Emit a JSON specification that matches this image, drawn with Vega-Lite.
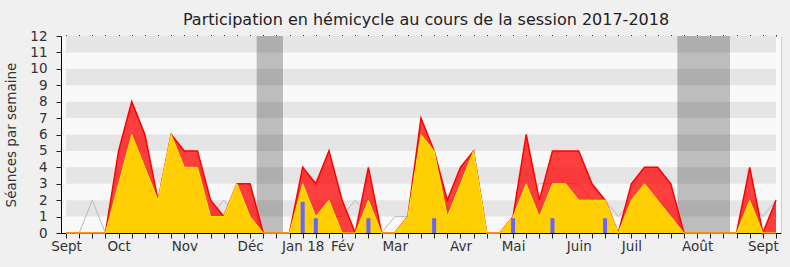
{
  "$schema": "https://vega.github.io/schema/vega-lite/v6.json",
  "autosize": "none",
  "width": 720,
  "height": 197,
  "padding": {"left": 61, "top": 36, "right": 9, "bottom": 34},
  "background": "#f0f0f0",
  "title": {"text": "Participation en hémicycle au cours de la session 2017-2018", "font": "DejaVu Sans", "fontSize": 16, "fontWeight": "normal", "color": "#222222", "anchor": "middle", "baseline": "alphabetic", "offset": -12, "dx": 5},
  "config": {"view": {"stroke": null, "fill": "#f9f9f9"}, "font": "DejaVu Sans"},
  "datasets": {
    "weeks": [
      {"week": 0, "total": 0, "part": 0, "median": 0},
      {"week": 1, "total": 0, "part": 0, "median": 0},
      {"week": 2, "total": 0, "part": 0, "median": 2},
      {"week": 3, "total": 0, "part": 0, "median": 0},
      {"week": 4, "total": 5, "part": 3, "median": 1},
      {"week": 5, "total": 8, "part": 6, "median": 2},
      {"week": 6, "total": 6, "part": 4, "median": 1},
      {"week": 7, "total": 2, "part": 2, "median": 1},
      {"week": 8, "total": 6, "part": 6, "median": 1},
      {"week": 9, "total": 5, "part": 4, "median": 2},
      {"week": 10, "total": 5, "part": 4, "median": 1},
      {"week": 11, "total": 2, "part": 1, "median": 1},
      {"week": 12, "total": 1, "part": 1, "median": 2},
      {"week": 13, "total": 3, "part": 3, "median": 1},
      {"week": 14, "total": 3, "part": 1, "median": 1},
      {"week": 15, "total": 0, "part": 0, "median": 0},
      {"week": 16, "total": 0, "part": 0, "median": 0},
      {"week": 17, "total": 0, "part": 0, "median": 0},
      {"week": 18, "total": 4, "part": 3, "median": 1},
      {"week": 19, "total": 3, "part": 1, "median": 1},
      {"week": 20, "total": 5, "part": 2, "median": 1},
      {"week": 21, "total": 2, "part": 0, "median": 1},
      {"week": 22, "total": 0, "part": 0, "median": 2},
      {"week": 23, "total": 4, "part": 2, "median": 1},
      {"week": 24, "total": 0, "part": 0, "median": 0},
      {"week": 25, "total": 0, "part": 0, "median": 1},
      {"week": 26, "total": 1, "part": 1, "median": 1},
      {"week": 27, "total": 7, "part": 6, "median": 1},
      {"week": 28, "total": 5, "part": 5, "median": 1},
      {"week": 29, "total": 2, "part": 1, "median": 2},
      {"week": 30, "total": 4, "part": 3, "median": 2},
      {"week": 31, "total": 5, "part": 5, "median": 2},
      {"week": 32, "total": 0, "part": 0, "median": 0},
      {"week": 33, "total": 0, "part": 0, "median": 0},
      {"week": 34, "total": 1, "part": 1, "median": 1},
      {"week": 35, "total": 6, "part": 3, "median": 2},
      {"week": 36, "total": 2, "part": 1, "median": 3},
      {"week": 37, "total": 5, "part": 3, "median": 3},
      {"week": 38, "total": 5, "part": 3, "median": 3},
      {"week": 39, "total": 5, "part": 2, "median": 3},
      {"week": 40, "total": 3, "part": 2, "median": 2},
      {"week": 41, "total": 2, "part": 2, "median": 2},
      {"week": 42, "total": 0, "part": 0, "median": 1},
      {"week": 43, "total": 3, "part": 2, "median": 2},
      {"week": 44, "total": 4, "part": 3, "median": 2},
      {"week": 45, "total": 4, "part": 2, "median": 2},
      {"week": 46, "total": 3, "part": 1, "median": 1},
      {"week": 47, "total": 0, "part": 0, "median": 0},
      {"week": 48, "total": 0, "part": 0, "median": 0},
      {"week": 49, "total": 0, "part": 0, "median": 0},
      {"week": 50, "total": 0, "part": 0, "median": 0},
      {"week": 51, "total": 0, "part": 0, "median": 0},
      {"week": 52, "total": 4, "part": 2, "median": 2},
      {"week": 53, "total": 0, "part": 0, "median": 1},
      {"week": 54, "total": 2, "part": 0, "median": 2}
    ],
    "questions": [
      {"week": 18, "q": 1.9},
      {"week": 19, "q": 0.9},
      {"week": 23, "q": 0.9},
      {"week": 28, "q": 0.9},
      {"week": 34, "q": 0.9},
      {"week": 37, "q": 0.9},
      {"week": 41, "q": 0.9}
    ],
    "bands": [
      {"lo": 1, "hi": 2}, {"lo": 3, "hi": 4}, {"lo": 5, "hi": 6},
      {"lo": 7, "hi": 8}, {"lo": 9, "hi": 10}, {"lo": 11, "hi": 12}
    ],
    "holidays": [
      {"start": 14.5, "end": 16.5},
      {"start": 46.5, "end": 50.5}
    ]
  },
  "resolve": {"axis": {"x": "independent", "y": "independent"}},
  "layer": [
    {
      "data": {"name": "bands"},
      "mark": {"type": "rect", "color": "#e5e5e5"},
      "encoding": {
        "x": {"datum": 0, "type": "quantitative", "scale": {"domain": [0, 54], "nice": false, "zero": false},
          "axis": {"orient": "bottom", "title": null, "grid": false,
            "values": [0,1,2,3,4,5,6,7,8,9,10,11,12,13,14,15,16,17,18,19,20,21,22,23,24,25,26,27,28,29,30,31,32,33,34,35,36,37,38,39,40,41,42,43,44,45,46,47,48,49,50,51,52,53,54],
            "labelExpr": "datum.value == 0 ? 'Sept' : datum.value == 4 ? 'Oct' : datum.value == 9 ? 'Nov' : datum.value == 14 ? 'Déc' : datum.value == 18 ? 'Jan 18' : datum.value == 21 ? 'Fév' : datum.value == 25 ? 'Mar' : datum.value == 30 ? 'Avr' : datum.value == 34 ? 'Mai' : datum.value == 39 ? 'Juin' : datum.value == 43 ? 'Juil' : datum.value == 48 ? 'Août' : datum.value == 53 ? 'Sept' : ''",
            "labelOverlap": false, "labelFlush": false, "labelBound": false,
            "labelFontSize": 13.5, "labelColor": "#333333", "labelPadding": 1, "labelFont": "DejaVu Sans",
            "tickSize": 5, "tickColor": "#222222", "domainColor": "#000000", "domainWidth": 1}},
        "x2": {"datum": 54},
        "y": {"field": "lo", "type": "quantitative", "scale": {"domain": [0, 12], "nice": false, "zero": true},
          "axis": {"orient": "left", "title": "Séances par semaine", "grid": false,
            "values": [0,1,2,3,4,5,6,7,8,9,10,11,12],
            "labelFontSize": 13.5, "labelColor": "#333333", "labelPadding": 9, "labelFont": "DejaVu Sans",
            "tickSize": 5, "tickColor": "#222222", "domainColor": "#000000",
            "titleFontSize": 13.5, "titleFontWeight": "normal", "titleColor": "#333333", "titleFont": "DejaVu Sans", "titlePadding": 11}},
        "y2": {"field": "hi"}
      }
    },
    {
      "data": {"name": "holidays"},
      "mark": {"type": "rect", "color": "#000000", "opacity": 0.24},
      "encoding": {
        "x": {"field": "start", "type": "quantitative",
          "axis": {"orient": "top", "title": null, "grid": false, "labels": false, "domain": false,
            "values": [0,1,2,3,4,5,6,7,8,9,10,11,12,13,14,15,16,17,18,19,20,21,22,23,24,25,26,27,28,29,30,31,32,33,34,35,36,37,38,39,40,41,42,43,44,45,46,47,48,49,50,51,52,53,54],
            "tickSize": 1.5, "tickColor": "#333333"}},
        "x2": {"field": "end"},
        "y": {"datum": 0, "type": "quantitative",
          "axis": {"orient": "right", "title": null, "grid": false, "labels": false, "ticks": false, "domainColor": "#cccccc"}},
        "y2": {"datum": 12}
      }
    },
    {
      "data": {"name": "weeks"},
      "mark": {"type": "line", "color": "#bbbbbb", "strokeWidth": 1},
      "encoding": {
        "x": {"field": "week", "type": "quantitative", "axis": null},
        "y": {"field": "median", "type": "quantitative", "axis": null}
      }
    },
    {
      "data": {"name": "weeks"},
      "mark": {"type": "area", "color": "#ff0000", "fillOpacity": 0.75, "line": {"color": "#ff0000", "strokeWidth": 1.5}},
      "encoding": {
        "x": {"field": "week", "type": "quantitative", "axis": null},
        "y": {"field": "total", "type": "quantitative", "axis": null}
      }
    },
    {
      "data": {"name": "weeks"},
      "mark": {"type": "area", "color": "#ffd700", "fillOpacity": 0.95, "line": {"color": "#ffee00", "strokeWidth": 1}},
      "encoding": {
        "x": {"field": "week", "type": "quantitative", "axis": null},
        "y": {"field": "part", "type": "quantitative", "axis": null}
      }
    },
    {
      "data": {"name": "questions"},
      "mark": {"type": "bar", "color": "#6666ff", "size": 4},
      "encoding": {
        "x": {"field": "week", "type": "quantitative", "axis": null},
        "y": {"field": "q", "type": "quantitative", "axis": null}
      }
    }
  ]
}
